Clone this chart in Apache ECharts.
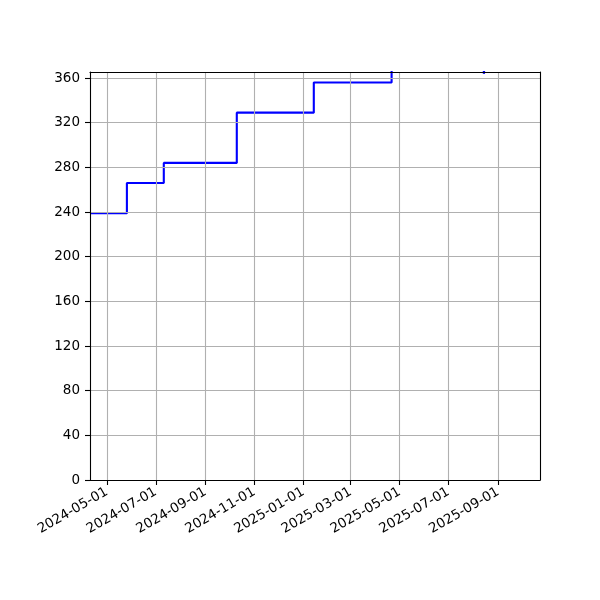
<!DOCTYPE html>
<html>
<head>
<meta charset="utf-8">
<script src="https://cdn.jsdelivr.net/npm/echarts@6/dist/echarts.min.js"></script>
<style>
  html, body { margin: 0; padding: 0; background: #fff; }
  #chart { width: 600px; height: 600px; }
</style>
</head>
<body>
<div id="chart"></div>
<script>
// step dates (value changes on that day) and the level reached
var stepDates = ['2024-04-10', '2024-05-26', '2024-07-11', '2024-10-10', '2025-01-14', '2025-04-21', '2025-08-14', '2025-08-16', '2025-10-23']
var stepValues = [239, 266, 284, 329, 356, 368, 363.8, 380, 380]

var xTickDates = ['2024-05-01', '2024-07-01', '2024-09-01', '2024-11-01', '2025-01-01', '2025-03-01', '2025-05-01', '2025-07-01', '2025-09-01']
var yTicks = [0, 40, 80, 120, 160, 200, 240, 280, 320, 360]

var xMin = '2024-04-10'
var xMax = '2025-10-23'
var yMax = 365.4

function toTime(s) {
  var p = s.split('-')
  return Date.UTC(+p[0], +p[1] - 1, +p[2])
}
function pad(n) { return n < 10 ? '0' + n : '' + n }
function fmtDate(t) {
  var d = new Date(t)
  return d.getUTCFullYear() + '-' + pad(d.getUTCMonth() + 1) + '-' + pad(d.getUTCDate())
}

var data = stepDates.map(function (d, i) { return [toTime(d), stepValues[i]] })
var xTicks = xTickDates.map(toTime)

var font = 'DejaVu Sans'
var gridLine = { show: true, lineStyle: { color: '#b0b0b0', width: 1.1 } }

var myChart = echarts.init(document.getElementById('chart'))
var option = {
  animation: false,
  grid: { left: 90, right: 60, top: 72, bottom: 120, containLabel: false },
  xAxis: [
    {
      type: 'value',
      min: toTime(xMin),
      max: toTime(xMax),
      position: 'bottom',
      axisLine: { show: true, onZero: false, lineStyle: { color: '#000', width: 1.1 } },
      axisTick: { show: true, length: 5, lineStyle: { color: '#000', width: 1.1 }, customValues: xTicks },
      axisLabel: {
        customValues: xTicks,
        rotate: 30,
        fontFamily: font,
        fontSize: 13.5,
        color: '#000',
        margin: 11,
        formatter: function (v) { return fmtDate(v) }
      },
      splitLine: gridLine,
      z: 5
    },
    {
      type: 'value',
      min: toTime(xMin),
      max: toTime(xMax),
      position: 'top',
      axisLine: { show: true, onZero: false, lineStyle: { color: '#000', width: 1.1 } },
      axisTick: { show: false },
      axisLabel: { show: false },
      splitLine: { show: false },
      z: 5
    }
  ],
  yAxis: [
    {
      type: 'value',
      min: 0,
      max: yMax,
      interval: 40,
      position: 'left',
      axisLine: { show: true, onZero: false, lineStyle: { color: '#000', width: 1.1 } },
      axisTick: { show: true, length: 5, lineStyle: { color: '#000', width: 1.1 }, customValues: yTicks },
      axisLabel: {
        customValues: yTicks,
        fontFamily: font,
        fontSize: 13.5,
        color: '#000',
        margin: 10
      },
      splitLine: gridLine,
      z: 5
    },
    {
      type: 'value',
      min: 0,
      max: yMax,
      position: 'right',
      axisLine: { show: true, onZero: false, lineStyle: { color: '#000', width: 1.1 } },
      axisTick: { show: false },
      axisLabel: { show: false },
      splitLine: { show: false },
      z: 5
    }
  ],
  series: [
    {
      type: 'line',
      step: 'end',
      data: data,
      showSymbol: false,
      clip: true,
      lineStyle: { color: '#0000ff', width: 2.1 },
      itemStyle: { color: '#0000ff' },
      z: 2
    }
  ]
}
myChart.setOption(option)
</script>
</body>
</html>
